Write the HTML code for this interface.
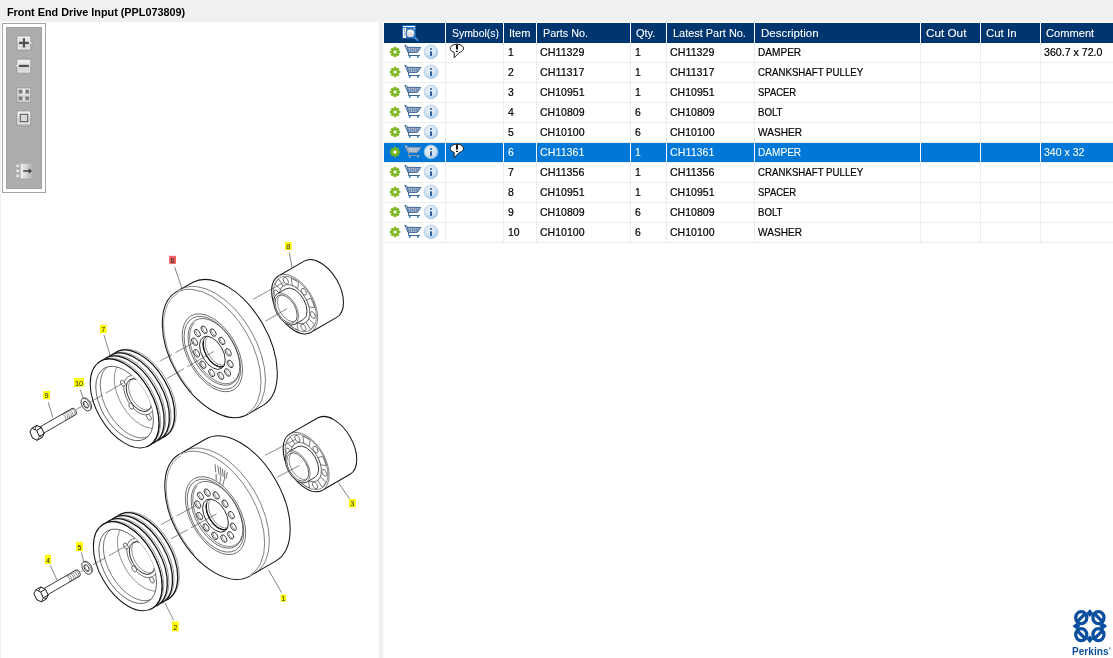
<!DOCTYPE html>
<html><head><meta charset="utf-8"><title>Front End Drive Input</title>
<style>
html,body{margin:0;padding:0}
body{width:1113px;height:658px;overflow:hidden;position:relative;background:#fff;font-family:"Liberation Sans",sans-serif;font-size:12px}
.t{position:absolute;white-space:nowrap;transform-origin:0 0;display:block;-webkit-text-stroke:0.22px currentColor}
.a{position:absolute}
</style></head><body>

<section id="titlebar">
<div class="a" style="left:0;top:0;width:1113px;height:22px;background:#f0f0f0"></div>
<span class="t" style="left:7.10px;top:6.18px;font-size:11.6px;line-height:11.6px;color:#000;transform:scaleX(0.9345);font-weight:bold;-webkit-text-stroke:0;">Front End Drive Input (PPL073809)</span>
</section>
<div class="a" style="left:0;top:22px;width:1px;height:636px;background:#f0f0f0"></div>
<div class="a" style="left:379px;top:22px;width:4px;height:636px;background:#f0f0f0"></div>
<section id="illustration">
<div class="a" style="left:2px;top:23px;width:42px;height:168px;border:1px solid #a5a5a5;background:#fff"></div>
<div class="a" style="left:6px;top:27px;width:36px;height:162px;background:#adadad;box-shadow:inset 0 0 0 1px #a3a3a3"></div>
<svg class="a" style="left:6px;top:27px" width="36" height="161" viewBox="6 27 36 161">
<defs><linearGradient id="bg1" x1="0" y1="0" x2="0" y2="1"><stop offset="0" stop-color="#f0f0f0"/><stop offset="0.48" stop-color="#e0e0e0"/><stop offset="0.52" stop-color="#d2d2d2"/><stop offset="1" stop-color="#e4e4e4"/></linearGradient><linearGradient id="bg2" x1="0" y1="0" x2="1" y2="0"><stop offset="0" stop-color="#f2f2f2"/><stop offset="1" stop-color="#b1b1b1"/></linearGradient></defs>
<path d="M16.9,36 H30.8 V41.4 L33.4,42.9 L30.8,44.4 V50 H16.9 Z" fill="url(#bg1)" stroke="#8f8f8f" stroke-width="0.7"/>
<path d="M19,42.8 H28.8 M23.95,38.2 V47.6" stroke="#505050" stroke-width="2.2"/>
<path d="M16.9,59.2 H30.8 V73.2 H16.9 V67.3 L14.3,65.8 L16.9,64.3 Z" fill="url(#bg1)" stroke="#8f8f8f" stroke-width="0.7"/>
<path d="M19,65.9 H28.8" stroke="#505050" stroke-width="2.2"/>
<rect x="16.9" y="88" width="13.9" height="14" fill="url(#bg1)" stroke="#8f8f8f" stroke-width="0.7"/>
<rect x="18.8" y="89.9" width="3.4" height="3.4" fill="#787878" stroke="#a2a2a2" stroke-width="0.6"/>
<rect x="25.6" y="89.9" width="3.4" height="3.4" fill="#787878" stroke="#a2a2a2" stroke-width="0.6"/>
<rect x="18.8" y="96.7" width="3.4" height="3.4" fill="#787878" stroke="#a2a2a2" stroke-width="0.6"/>
<rect x="25.6" y="96.7" width="3.4" height="3.4" fill="#787878" stroke="#a2a2a2" stroke-width="0.6"/>
<rect x="16.9" y="111" width="13.9" height="14" fill="url(#bg1)" stroke="#8f8f8f" stroke-width="0.7"/>
<rect x="20.3" y="114.3" width="7.4" height="7.4" fill="#d8d8d8" stroke="#555" stroke-width="1"/>
<rect x="20.6" y="163.8" width="12" height="14.6" fill="url(#bg2)"/>
<rect x="15.9" y="164" width="3.8" height="3.8" fill="#e4e4e4" stroke="#9f9f9f" stroke-width="0.7"/>
<rect x="15.9" y="169" width="3.8" height="3.8" fill="#e4e4e4" stroke="#9f9f9f" stroke-width="0.7"/>
<rect x="15.9" y="174" width="3.8" height="3.8" fill="#e4e4e4" stroke="#9f9f9f" stroke-width="0.7"/>
<path d="M23.2,171 H30" stroke="#444" stroke-width="1.5"/><path d="M28.6,168.2 L32.2,171 L28.6,173.8 Z" fill="#444"/>
</svg>
<svg class="a" style="left:0;top:22px" width="379" height="636" viewBox="0 22 379 636">
<path d="M37.7,428.3L72.1,408.4A3.6,2.1 60 0 1 75.7,414.7L41.3,434.6Z" fill="#fff" stroke="#141414" stroke-width="0.85" stroke-linejoin="round"/>
<path d="M70.8,409.2A3.6,2.1 60 0 1 74.4,415.5" fill="none" stroke="#363636" stroke-width="0.55"/>
<path d="M68.9,410.3A3.6,2.1 60 0 1 72.5,416.5" fill="none" stroke="#363636" stroke-width="0.55"/>
<path d="M67.1,411.3A3.6,2.1 60 0 1 70.7,417.6" fill="none" stroke="#363636" stroke-width="0.55"/>
<path d="M65.3,412.4A3.6,2.1 60 0 1 68.9,418.6" fill="none" stroke="#363636" stroke-width="0.55"/>
<path d="M63.5,413.4A3.6,2.1 60 0 1 67.1,419.7" fill="none" stroke="#363636" stroke-width="0.55"/>
<path d="M61.7,414.5A3.6,2.1 60 0 1 65.3,420.7" fill="none" stroke="#363636" stroke-width="0.55"/>
<path d="M36.8,425.5L41.4,427.7L44.1,433.7L42.1,437.4L37.5,435.2L34.8,429.2Z" fill="#fff" stroke="#141414" stroke-width="0.8" stroke-linejoin="round"/>
<path d="M36.8,425.5L41.4,427.7L36.6,430.5L31.9,428.3Z" fill="#fff" stroke="#141414" stroke-width="0.8" stroke-linejoin="round"/>
<path d="M41.4,427.7L44.1,433.7L39.3,436.5L36.6,430.5Z" fill="#fff" stroke="#141414" stroke-width="0.8" stroke-linejoin="round"/>
<path d="M44.1,433.7L42.1,437.4L37.3,440.2L39.3,436.5Z" fill="#fff" stroke="#141414" stroke-width="0.8" stroke-linejoin="round"/>
<path d="M42.1,437.4L37.5,435.2L32.6,438.0L37.3,440.2Z" fill="#fff" stroke="#141414" stroke-width="0.8" stroke-linejoin="round"/>
<path d="M37.5,435.2L34.8,429.2L30.0,432.0L32.6,438.0Z" fill="#fff" stroke="#141414" stroke-width="0.8" stroke-linejoin="round"/>
<path d="M34.8,429.2L36.8,425.5L31.9,428.3L30.0,432.0Z" fill="#fff" stroke="#141414" stroke-width="0.8" stroke-linejoin="round"/>
<path d="M31.9,428.3L36.6,430.5L39.3,436.5L37.3,440.2L32.6,438.0L30.0,432.0Z" fill="#fff" stroke="#141414" stroke-width="0.8" stroke-linejoin="round"/>
<path d="M82.4,398.8L83.4,398.2A6.8,3.9 60 0 1 90.2,410.0L89.2,410.6Z" fill="#fff" stroke="#141414" stroke-width="0.8" stroke-linejoin="round"/>
<ellipse cx="85.8" cy="404.7" rx="6.8" ry="3.9" transform="rotate(60 85.8 404.7)" fill="#fff" stroke="none" stroke-width="0"/>
<path d="M89.2,410.6A6.8,3.9 60 0 1 82.4,398.8" fill="none" stroke="#141414" stroke-width="0.8"/>
<path d="M82.4,398.8A6.8,3.9 60 0 1 89.2,410.6" fill="none" stroke="#363636" stroke-width="0.64"/>
<ellipse cx="85.8" cy="404.7" rx="3.7" ry="2.1" transform="rotate(60 85.8 404.7)" fill="#fff" stroke="#141414" stroke-width="0.8"/>
<path d="M88.1,407.4A3.5,2.0 60 0 1 84.6,401.4" fill="none" stroke="#363636" stroke-width="0.5"/>
<path d="M118.9,353.7L118.9,353.7A46.0,26.5 60 0 1 164.9,433.3L164.9,433.3Z" fill="#fff" stroke="none" stroke-width="0" stroke-linejoin="round"/>
<path d="M115.9,352.4L117.6,351.4A48.6,28.0 60 0 1 166.2,435.6L164.5,436.6Z" fill="#fff" stroke="#444" stroke-width="0.55" stroke-linejoin="round"/>
<ellipse cx="140.2" cy="394.5" rx="48.6" ry="28.0" transform="rotate(60 140.2 394.5)" fill="#fff" stroke="none" stroke-width="0"/>
<path d="M113.5,354.1A48.6,28.0 60 1 1 161.8,437.8" fill="none" stroke="#141414" stroke-width="1.3"/>
<path d="M113.7,356.7L117.2,354.7A46.0,26.5 60 0 1 163.2,434.3L159.7,436.3Z" fill="#fff" stroke="none" stroke-width="0" stroke-linejoin="round"/>
<path d="M110.7,355.4L112.4,354.4A48.6,28.0 60 0 1 161.0,438.6L159.3,439.6Z" fill="#fff" stroke="#444" stroke-width="0.55" stroke-linejoin="round"/>
<ellipse cx="135.0" cy="397.5" rx="48.6" ry="28.0" transform="rotate(60 135.0 397.5)" fill="#fff" stroke="none" stroke-width="0"/>
<path d="M108.3,357.1A48.6,28.0 60 1 1 156.6,440.8" fill="none" stroke="#141414" stroke-width="1.3"/>
<path d="M108.5,359.7L112.0,357.7A46.0,26.5 60 0 1 158.0,437.3L154.5,439.3Z" fill="#fff" stroke="none" stroke-width="0" stroke-linejoin="round"/>
<path d="M105.5,358.4L107.2,357.4A48.6,28.0 60 0 1 155.8,441.6L154.1,442.6Z" fill="#fff" stroke="#444" stroke-width="0.55" stroke-linejoin="round"/>
<ellipse cx="129.8" cy="400.5" rx="48.6" ry="28.0" transform="rotate(60 129.8 400.5)" fill="#fff" stroke="none" stroke-width="0"/>
<path d="M103.1,360.1A48.6,28.0 60 1 1 151.4,443.8" fill="none" stroke="#141414" stroke-width="1.3"/>
<path d="M103.3,362.7L106.8,360.7A46.0,26.5 60 0 1 152.8,440.3L149.3,442.3Z" fill="#fff" stroke="none" stroke-width="0" stroke-linejoin="round"/>
<path d="M100.3,361.4L102.0,360.4A48.6,28.0 60 0 1 150.6,444.6L148.9,445.6Z" fill="#fff" stroke="#444" stroke-width="0.55" stroke-linejoin="round"/>
<ellipse cx="124.6" cy="403.5" rx="48.6" ry="28.0" transform="rotate(60 124.6 403.5)" fill="#fff" stroke="none" stroke-width="0"/>
<path d="M97.9,363.1A48.6,28.0 60 1 1 146.2,446.8" fill="none" stroke="#141414" stroke-width="1.3"/>
<ellipse cx="124.6" cy="403.5" rx="48.6" ry="28.0" transform="rotate(60 124.6 403.5)" fill="#fff" stroke="#141414" stroke-width="1.05"/>
<ellipse cx="124.6" cy="403.5" rx="40.8" ry="23.5" transform="rotate(60 124.6 403.5)" fill="#fff" stroke="#363636" stroke-width="0.7"/>
<clipPath id="cp1"><ellipse cx="124.6" cy="403.5" rx="40.8" ry="23.5" transform="rotate(60 124.6 403.5)"/></clipPath>
<g clip-path="url(#cp1)">
<ellipse cx="128.9" cy="401.0" rx="40.5" ry="23.4" transform="rotate(60 128.9 401.0)" fill="none" stroke="#363636" stroke-width="0.6"/>
<ellipse cx="140.6" cy="394.2" rx="37.3" ry="21.5" transform="rotate(60 140.6 394.2)" fill="none" stroke="#363636" stroke-width="0.5"/>
<ellipse cx="138.9" cy="395.2" rx="21.5" ry="12.4" transform="rotate(60 138.9 395.2)" fill="#fff" stroke="#363636" stroke-width="0.64"/>
<ellipse cx="138.9" cy="395.2" rx="18.0" ry="10.4" transform="rotate(60 138.9 395.2)" fill="#fff" stroke="#141414" stroke-width="0.8"/>
<ellipse cx="141.0" cy="394.0" rx="17.6" ry="10.2" transform="rotate(60 141.0 394.0)" fill="none" stroke="#363636" stroke-width="0.5"/>
<ellipse cx="122.8" cy="383.2" rx="3.3" ry="1.9" transform="rotate(60 122.8 383.2)" fill="#fff" stroke="#363636" stroke-width="0.7"/>
<ellipse cx="132.3" cy="371.3" rx="3.3" ry="1.9" transform="rotate(60 132.3 371.3)" fill="#fff" stroke="#363636" stroke-width="0.7"/>
<ellipse cx="150.1" cy="382.3" rx="3.3" ry="1.9" transform="rotate(60 150.1 382.3)" fill="#fff" stroke="#363636" stroke-width="0.7"/>
<ellipse cx="158.4" cy="405.3" rx="3.3" ry="1.9" transform="rotate(60 158.4 405.3)" fill="#fff" stroke="#363636" stroke-width="0.7"/>
<ellipse cx="148.9" cy="417.2" rx="3.3" ry="1.9" transform="rotate(60 148.9 417.2)" fill="#fff" stroke="#363636" stroke-width="0.7"/>
<ellipse cx="131.1" cy="406.2" rx="3.3" ry="1.9" transform="rotate(60 131.1 406.2)" fill="#fff" stroke="#363636" stroke-width="0.7"/>
</g>
<path d="M176.9,291.4L193.0,282.2A70.9,40.9 60 0 1 263.9,404.9L247.9,414.2Z" fill="#fff" stroke="#141414" stroke-width="1.05" stroke-linejoin="round"/>
<ellipse cx="212.4" cy="352.8" rx="70.9" ry="40.9" transform="rotate(60 212.4 352.8)" fill="#fff" stroke="none" stroke-width="0"/>
<path d="M247.9,414.2A70.9,40.9 60 0 1 176.9,291.4" fill="none" stroke="#141414" stroke-width="1.05"/>
<path d="M177.0,292.3A70.1,40.4 60 0 1 247.1,413.7" fill="none" stroke="#363636" stroke-width="0.64"/>
<path d="M180.1,289.6A70.9,40.9 60 0 1 251.0,412.4" fill="none" stroke="#363636" stroke-width="0.64"/>
<path d="M191.8,391.9A69.0,39.8 60 0 1 177.9,293.0" fill="none" stroke="#363636" stroke-width="0.5"/>
<ellipse cx="212.4" cy="352.8" rx="42.7" ry="24.6" transform="rotate(60 212.4 352.8)" fill="none" stroke="#363636" stroke-width="0.64"/>
<ellipse cx="212.4" cy="352.8" rx="40.0" ry="23.1" transform="rotate(60 212.4 352.8)" fill="none" stroke="#363636" stroke-width="0.64"/>
<ellipse cx="213.9" cy="351.9" rx="36.6" ry="21.1" transform="rotate(60 213.9 351.9)" fill="none" stroke="#363636" stroke-width="0.64"/>
<path d="M239.0,373.1A35.6,20.5 60 1 1 194.0,322.9" fill="none" stroke="#363636" stroke-width="0.64"/>
<ellipse cx="194.6" cy="341.7" rx="4.1" ry="2.4" transform="rotate(60 194.6 341.7)" fill="#fff" stroke="#222" stroke-width="0.8"/>
<path d="M196.9,344.6A3.9,2.3 60 0 1 193.2,338.3" fill="none" stroke="#363636" stroke-width="0.5"/>
<ellipse cx="197.3" cy="333.1" rx="4.1" ry="2.4" transform="rotate(60 197.3 333.1)" fill="#fff" stroke="#222" stroke-width="0.8"/>
<path d="M199.6,336.0A3.9,2.3 60 0 1 196.0,329.7" fill="none" stroke="#363636" stroke-width="0.5"/>
<ellipse cx="204.1" cy="329.8" rx="4.1" ry="2.4" transform="rotate(60 204.1 329.8)" fill="#fff" stroke="#222" stroke-width="0.8"/>
<path d="M206.4,332.7A3.9,2.3 60 0 1 202.7,326.4" fill="none" stroke="#363636" stroke-width="0.5"/>
<ellipse cx="213.1" cy="332.6" rx="4.1" ry="2.4" transform="rotate(60 213.1 332.6)" fill="#fff" stroke="#222" stroke-width="0.8"/>
<path d="M215.4,335.5A3.9,2.3 60 0 1 211.7,329.2" fill="none" stroke="#363636" stroke-width="0.5"/>
<ellipse cx="221.9" cy="340.9" rx="4.1" ry="2.4" transform="rotate(60 221.9 340.9)" fill="#fff" stroke="#222" stroke-width="0.8"/>
<path d="M224.2,343.8A3.9,2.3 60 0 1 220.5,337.4" fill="none" stroke="#363636" stroke-width="0.5"/>
<ellipse cx="228.2" cy="352.3" rx="4.1" ry="2.4" transform="rotate(60 228.2 352.3)" fill="#fff" stroke="#222" stroke-width="0.8"/>
<path d="M230.4,355.2A3.9,2.3 60 0 1 226.8,348.9" fill="none" stroke="#363636" stroke-width="0.5"/>
<ellipse cx="230.2" cy="363.9" rx="4.1" ry="2.4" transform="rotate(60 230.2 363.9)" fill="#fff" stroke="#222" stroke-width="0.8"/>
<path d="M232.5,366.8A3.9,2.3 60 0 1 228.8,360.4" fill="none" stroke="#363636" stroke-width="0.5"/>
<ellipse cx="227.5" cy="372.5" rx="4.1" ry="2.4" transform="rotate(60 227.5 372.5)" fill="#fff" stroke="#222" stroke-width="0.8"/>
<path d="M229.8,375.4A3.9,2.3 60 0 1 226.1,369.0" fill="none" stroke="#363636" stroke-width="0.5"/>
<ellipse cx="220.7" cy="375.8" rx="4.1" ry="2.4" transform="rotate(60 220.7 375.8)" fill="#fff" stroke="#222" stroke-width="0.8"/>
<path d="M223.0,378.7A3.9,2.3 60 0 1 219.3,372.4" fill="none" stroke="#363636" stroke-width="0.5"/>
<ellipse cx="211.7" cy="373.0" rx="4.1" ry="2.4" transform="rotate(60 211.7 373.0)" fill="#fff" stroke="#222" stroke-width="0.8"/>
<path d="M214.0,375.9A3.9,2.3 60 0 1 210.3,369.5" fill="none" stroke="#363636" stroke-width="0.5"/>
<ellipse cx="202.9" cy="364.7" rx="4.1" ry="2.4" transform="rotate(60 202.9 364.7)" fill="#fff" stroke="#222" stroke-width="0.8"/>
<path d="M205.2,367.6A3.9,2.3 60 0 1 201.5,361.3" fill="none" stroke="#363636" stroke-width="0.5"/>
<ellipse cx="196.6" cy="353.3" rx="4.1" ry="2.4" transform="rotate(60 196.6 353.3)" fill="#fff" stroke="#222" stroke-width="0.8"/>
<path d="M198.9,356.2A3.9,2.3 60 0 1 195.3,349.9" fill="none" stroke="#363636" stroke-width="0.5"/>
<ellipse cx="212.4" cy="352.8" rx="18.2" ry="10.5" transform="rotate(60 212.4 352.8)" fill="#fff" stroke="#141414" stroke-width="0.8"/>
<clipPath id="cp2"><ellipse cx="212.4" cy="352.8" rx="18.2" ry="10.5" transform="rotate(60 212.4 352.8)"/></clipPath>
<g clip-path="url(#cp2)">
<path d="M225.4,365.1A17.4,10.0 60 0 1 203.5,340.6" fill="none" stroke="#141414" stroke-width="1.25"/>
<ellipse cx="215.3" cy="351.1" rx="17.4" ry="10.0" transform="rotate(60 215.3 351.1)" fill="none" stroke="#141414" stroke-width="0.7"/>
<ellipse cx="217.1" cy="350.1" rx="16.6" ry="9.6" transform="rotate(60 217.1 350.1)" fill="none" stroke="#363636" stroke-width="0.5"/>
</g>
<path d="M278.4,276.0L304.2,261.1A32.5,18.8 60 0 1 336.7,317.4L310.9,332.3Z" fill="#fff" stroke="#141414" stroke-width="1.05" stroke-linejoin="round"/>
<ellipse cx="294.6" cy="304.2" rx="32.5" ry="18.8" transform="rotate(60 294.6 304.2)" fill="#fff" stroke="none" stroke-width="0"/>
<path d="M310.9,332.3A32.5,18.8 60 0 1 278.4,276.0" fill="none" stroke="#141414" stroke-width="1.05"/>
<path d="M278.4,276.0A32.5,18.8 60 0 1 310.9,332.3" fill="none" stroke="#363636" stroke-width="0.64"/>
<ellipse cx="294.9" cy="304.0" rx="30.3" ry="17.5" transform="rotate(60 294.9 304.0)" fill="none" stroke="#363636" stroke-width="0.5"/>
<ellipse cx="285.8" cy="280.8" rx="3.7" ry="2.1" transform="rotate(60 285.8 280.8)" fill="#fff" stroke="#363636" stroke-width="0.65"/>
<path d="M291.3,278.3A29.8,17.2 60 0 1 298.6,282.6L297.5,288.7A21.4,12.4 60 0 0 292.2,285.5Z" fill="#fff" stroke="#363636" stroke-width="0.65" stroke-linejoin="round"/>
<ellipse cx="303.9" cy="291.7" rx="3.7" ry="2.1" transform="rotate(60 303.9 291.7)" fill="#fff" stroke="#363636" stroke-width="0.65"/>
<path d="M311.0,298.3A29.8,17.2 60 0 1 314.5,307.8L308.9,306.8A21.4,12.4 60 0 0 306.4,300.0Z" fill="#fff" stroke="#363636" stroke-width="0.65" stroke-linejoin="round"/>
<ellipse cx="312.7" cy="315.0" rx="3.7" ry="2.1" transform="rotate(60 312.7 315.0)" fill="#fff" stroke="#363636" stroke-width="0.65"/>
<path d="M314.3,324.3A29.8,17.2 60 0 1 310.5,329.3L306.0,322.3A21.4,12.4 60 0 0 308.7,318.6Z" fill="#fff" stroke="#363636" stroke-width="0.65" stroke-linejoin="round"/>
<ellipse cx="303.4" cy="327.5" rx="3.7" ry="2.1" transform="rotate(60 303.4 327.5)" fill="#fff" stroke="#363636" stroke-width="0.65"/>
<path d="M297.9,330.1A29.8,17.2 60 0 1 290.6,325.7L291.7,319.7A21.4,12.4 60 0 0 297.0,322.8Z" fill="#fff" stroke="#363636" stroke-width="0.65" stroke-linejoin="round"/>
<ellipse cx="285.3" cy="316.7" rx="3.7" ry="2.1" transform="rotate(60 285.3 316.7)" fill="#fff" stroke="#363636" stroke-width="0.65"/>
<path d="M278.2,310.0A29.8,17.2 60 0 1 274.7,300.6L280.3,301.6A21.4,12.4 60 0 0 282.8,308.4Z" fill="#fff" stroke="#363636" stroke-width="0.65" stroke-linejoin="round"/>
<ellipse cx="276.5" cy="293.4" rx="3.7" ry="2.1" transform="rotate(60 276.5 293.4)" fill="#fff" stroke="#363636" stroke-width="0.65"/>
<path d="M274.9,284.1A29.8,17.2 60 0 1 278.7,279.1L283.2,286.1A21.4,12.4 60 0 0 280.5,289.8Z" fill="#fff" stroke="#363636" stroke-width="0.65" stroke-linejoin="round"/>
<ellipse cx="294.6" cy="304.2" rx="21.5" ry="12.4" transform="rotate(60 294.6 304.2)" fill="#fff" stroke="#363636" stroke-width="0.64"/>
<path d="M277.3,293.8L285.8,288.9A17.6,10.2 60 0 1 303.4,319.4L294.9,324.3Z" fill="#fff" stroke="#141414" stroke-width="0.85" stroke-linejoin="round"/>
<ellipse cx="286.1" cy="309.1" rx="17.6" ry="10.2" transform="rotate(60 286.1 309.1)" fill="#fff" stroke="none" stroke-width="0"/>
<path d="M294.9,324.3A17.6,10.2 60 0 1 277.3,293.8" fill="none" stroke="#141414" stroke-width="0.85"/>
<path d="M277.3,293.8A17.6,10.2 60 0 1 294.9,324.3" fill="none" stroke="#363636" stroke-width="0.64"/>
<ellipse cx="286.1" cy="309.1" rx="15.6" ry="9.0" transform="rotate(60 286.1 309.1)" fill="#fff" stroke="#363636" stroke-width="0.7"/>
<clipPath id="cp3"><ellipse cx="286.1" cy="309.1" rx="15.6" ry="9.0" transform="rotate(60 286.1 309.1)"/></clipPath>
<g clip-path="url(#cp3)">
<ellipse cx="288.0" cy="308.0" rx="15.0" ry="8.7" transform="rotate(60 288.0 308.0)" fill="none" stroke="#363636" stroke-width="0.5"/>
</g>
<path d="M41.7,589.9L76.1,570.0A3.6,2.1 60 0 1 79.7,576.2L45.3,596.1Z" fill="#fff" stroke="#141414" stroke-width="0.85" stroke-linejoin="round"/>
<path d="M74.8,570.8A3.6,2.1 60 0 1 78.4,577.0" fill="none" stroke="#363636" stroke-width="0.55"/>
<path d="M72.9,571.8A3.6,2.1 60 0 1 76.5,578.1" fill="none" stroke="#363636" stroke-width="0.55"/>
<path d="M71.1,572.9A3.6,2.1 60 0 1 74.7,579.1" fill="none" stroke="#363636" stroke-width="0.55"/>
<path d="M69.3,573.9A3.6,2.1 60 0 1 72.9,580.2" fill="none" stroke="#363636" stroke-width="0.55"/>
<path d="M67.5,575.0A3.6,2.1 60 0 1 71.1,581.2" fill="none" stroke="#363636" stroke-width="0.55"/>
<path d="M65.7,576.0A3.6,2.1 60 0 1 69.3,582.3" fill="none" stroke="#363636" stroke-width="0.55"/>
<path d="M40.8,587.0L45.4,589.3L48.1,595.2L46.2,599.0L41.5,596.7L38.8,590.8Z" fill="#fff" stroke="#141414" stroke-width="0.8" stroke-linejoin="round"/>
<path d="M40.8,587.0L45.4,589.3L40.6,592.1L35.9,589.8Z" fill="#fff" stroke="#141414" stroke-width="0.8" stroke-linejoin="round"/>
<path d="M45.4,589.3L48.1,595.2L43.3,598.0L40.6,592.1Z" fill="#fff" stroke="#141414" stroke-width="0.8" stroke-linejoin="round"/>
<path d="M48.1,595.2L46.2,599.0L41.3,601.8L43.3,598.0Z" fill="#fff" stroke="#141414" stroke-width="0.8" stroke-linejoin="round"/>
<path d="M46.2,599.0L41.5,596.7L36.7,599.5L41.3,601.8Z" fill="#fff" stroke="#141414" stroke-width="0.8" stroke-linejoin="round"/>
<path d="M41.5,596.7L38.8,590.8L34.0,593.6L36.7,599.5Z" fill="#fff" stroke="#141414" stroke-width="0.8" stroke-linejoin="round"/>
<path d="M38.8,590.8L40.8,587.0L35.9,589.8L34.0,593.6Z" fill="#fff" stroke="#141414" stroke-width="0.8" stroke-linejoin="round"/>
<path d="M35.9,589.8L40.6,592.1L43.3,598.0L41.3,601.8L36.7,599.5L34.0,593.6Z" fill="#fff" stroke="#141414" stroke-width="0.8" stroke-linejoin="round"/>
<path d="M83.2,562.2L84.2,561.6A6.8,3.9 60 0 1 91.0,573.4L90.0,574.0Z" fill="#fff" stroke="#141414" stroke-width="0.8" stroke-linejoin="round"/>
<ellipse cx="86.6" cy="568.1" rx="6.8" ry="3.9" transform="rotate(60 86.6 568.1)" fill="#fff" stroke="none" stroke-width="0"/>
<path d="M90.0,574.0A6.8,3.9 60 0 1 83.2,562.2" fill="none" stroke="#141414" stroke-width="0.8"/>
<path d="M83.2,562.2A6.8,3.9 60 0 1 90.0,574.0" fill="none" stroke="#363636" stroke-width="0.64"/>
<ellipse cx="86.6" cy="568.1" rx="3.7" ry="2.1" transform="rotate(60 86.6 568.1)" fill="#fff" stroke="#141414" stroke-width="0.8"/>
<path d="M88.9,570.8A3.5,2.0 60 0 1 85.4,564.8" fill="none" stroke="#363636" stroke-width="0.5"/>
<path d="M122.0,516.5L122.0,516.5A46.0,26.5 60 0 1 168.0,596.1L168.0,596.1Z" fill="#fff" stroke="none" stroke-width="0" stroke-linejoin="round"/>
<path d="M119.0,515.2L120.7,514.2A48.6,28.0 60 0 1 169.3,598.4L167.6,599.4Z" fill="#fff" stroke="#444" stroke-width="0.55" stroke-linejoin="round"/>
<ellipse cx="143.3" cy="557.3" rx="48.6" ry="28.0" transform="rotate(60 143.3 557.3)" fill="#fff" stroke="none" stroke-width="0"/>
<path d="M116.6,516.9A48.6,28.0 60 1 1 164.9,600.6" fill="none" stroke="#141414" stroke-width="1.3"/>
<path d="M116.8,519.5L120.3,517.5A46.0,26.5 60 0 1 166.3,597.1L162.8,599.1Z" fill="#fff" stroke="none" stroke-width="0" stroke-linejoin="round"/>
<path d="M113.8,518.2L115.5,517.2A48.6,28.0 60 0 1 164.1,601.4L162.4,602.4Z" fill="#fff" stroke="#444" stroke-width="0.55" stroke-linejoin="round"/>
<ellipse cx="138.1" cy="560.3" rx="48.6" ry="28.0" transform="rotate(60 138.1 560.3)" fill="#fff" stroke="none" stroke-width="0"/>
<path d="M111.4,519.9A48.6,28.0 60 1 1 159.7,603.6" fill="none" stroke="#141414" stroke-width="1.3"/>
<path d="M111.6,522.5L115.1,520.5A46.0,26.5 60 0 1 161.1,600.1L157.6,602.1Z" fill="#fff" stroke="none" stroke-width="0" stroke-linejoin="round"/>
<path d="M108.6,521.2L110.3,520.2A48.6,28.0 60 0 1 158.9,604.4L157.2,605.4Z" fill="#fff" stroke="#444" stroke-width="0.55" stroke-linejoin="round"/>
<ellipse cx="132.9" cy="563.3" rx="48.6" ry="28.0" transform="rotate(60 132.9 563.3)" fill="#fff" stroke="none" stroke-width="0"/>
<path d="M106.2,522.9A48.6,28.0 60 1 1 154.5,606.6" fill="none" stroke="#141414" stroke-width="1.3"/>
<path d="M106.4,525.5L109.9,523.5A46.0,26.5 60 0 1 155.9,603.1L152.4,605.1Z" fill="#fff" stroke="none" stroke-width="0" stroke-linejoin="round"/>
<path d="M103.4,524.2L105.1,523.2A48.6,28.0 60 0 1 153.7,607.4L152.0,608.4Z" fill="#fff" stroke="#444" stroke-width="0.55" stroke-linejoin="round"/>
<ellipse cx="127.7" cy="566.3" rx="48.6" ry="28.0" transform="rotate(60 127.7 566.3)" fill="#fff" stroke="none" stroke-width="0"/>
<path d="M101.0,525.9A48.6,28.0 60 1 1 149.3,609.6" fill="none" stroke="#141414" stroke-width="1.3"/>
<ellipse cx="127.7" cy="566.3" rx="48.6" ry="28.0" transform="rotate(60 127.7 566.3)" fill="#fff" stroke="#141414" stroke-width="1.05"/>
<ellipse cx="127.7" cy="566.3" rx="40.8" ry="23.5" transform="rotate(60 127.7 566.3)" fill="#fff" stroke="#363636" stroke-width="0.7"/>
<clipPath id="cp4"><ellipse cx="127.7" cy="566.3" rx="40.8" ry="23.5" transform="rotate(60 127.7 566.3)"/></clipPath>
<g clip-path="url(#cp4)">
<ellipse cx="132.0" cy="563.8" rx="40.5" ry="23.4" transform="rotate(60 132.0 563.8)" fill="none" stroke="#363636" stroke-width="0.6"/>
<ellipse cx="143.7" cy="557.1" rx="37.3" ry="21.5" transform="rotate(60 143.7 557.1)" fill="none" stroke="#363636" stroke-width="0.5"/>
<ellipse cx="142.0" cy="558.1" rx="21.5" ry="12.4" transform="rotate(60 142.0 558.1)" fill="#fff" stroke="#363636" stroke-width="0.64"/>
<ellipse cx="142.0" cy="558.1" rx="18.0" ry="10.4" transform="rotate(60 142.0 558.1)" fill="#fff" stroke="#141414" stroke-width="0.8"/>
<ellipse cx="144.1" cy="556.8" rx="17.6" ry="10.2" transform="rotate(60 144.1 556.8)" fill="none" stroke="#363636" stroke-width="0.5"/>
<ellipse cx="125.9" cy="546.0" rx="3.3" ry="1.9" transform="rotate(60 125.9 546.0)" fill="#fff" stroke="#363636" stroke-width="0.7"/>
<ellipse cx="135.4" cy="534.1" rx="3.3" ry="1.9" transform="rotate(60 135.4 534.1)" fill="#fff" stroke="#363636" stroke-width="0.7"/>
<ellipse cx="153.2" cy="545.1" rx="3.3" ry="1.9" transform="rotate(60 153.2 545.1)" fill="#fff" stroke="#363636" stroke-width="0.7"/>
<ellipse cx="161.5" cy="568.1" rx="3.3" ry="1.9" transform="rotate(60 161.5 568.1)" fill="#fff" stroke="#363636" stroke-width="0.7"/>
<ellipse cx="152.0" cy="580.0" rx="3.3" ry="1.9" transform="rotate(60 152.0 580.0)" fill="#fff" stroke="#363636" stroke-width="0.7"/>
<ellipse cx="134.2" cy="569.0" rx="3.3" ry="1.9" transform="rotate(60 134.2 569.0)" fill="#fff" stroke="#363636" stroke-width="0.7"/>
</g>
<path d="M179.3,454.3L205.3,439.3A70.3,40.6 60 0 1 275.6,561.1L249.7,576.1Z" fill="#fff" stroke="#141414" stroke-width="1.05" stroke-linejoin="round"/>
<ellipse cx="214.5" cy="515.2" rx="70.3" ry="40.6" transform="rotate(60 214.5 515.2)" fill="#fff" stroke="none" stroke-width="0"/>
<path d="M249.7,576.1A70.3,40.6 60 0 1 179.3,454.3" fill="none" stroke="#141414" stroke-width="1.05"/>
<path d="M180.8,454.4A69.5,40.1 60 0 1 250.3,574.8" fill="none" stroke="#363636" stroke-width="0.64"/>
<path d="M184.5,451.3A70.3,40.6 60 0 1 254.8,573.1" fill="none" stroke="#363636" stroke-width="0.64"/>
<path d="M194.1,554.0A68.4,39.5 60 0 1 180.3,456.0" fill="none" stroke="#363636" stroke-width="0.5"/>
<ellipse cx="215.5" cy="515.6" rx="42.7" ry="24.6" transform="rotate(60 215.5 515.6)" fill="none" stroke="#363636" stroke-width="0.64"/>
<ellipse cx="215.5" cy="515.6" rx="40.0" ry="23.1" transform="rotate(60 215.5 515.6)" fill="none" stroke="#363636" stroke-width="0.64"/>
<ellipse cx="217.0" cy="514.8" rx="36.6" ry="21.1" transform="rotate(60 217.0 514.8)" fill="none" stroke="#363636" stroke-width="0.64"/>
<path d="M242.1,535.9A35.6,20.5 60 1 1 197.1,485.7" fill="none" stroke="#363636" stroke-width="0.64"/>
<ellipse cx="197.7" cy="504.5" rx="4.1" ry="2.4" transform="rotate(60 197.7 504.5)" fill="#fff" stroke="#222" stroke-width="0.8"/>
<path d="M200.0,507.4A3.9,2.3 60 0 1 196.3,501.1" fill="none" stroke="#363636" stroke-width="0.5"/>
<ellipse cx="200.4" cy="495.9" rx="4.1" ry="2.4" transform="rotate(60 200.4 495.9)" fill="#fff" stroke="#222" stroke-width="0.8"/>
<path d="M202.7,498.8A3.9,2.3 60 0 1 199.1,492.5" fill="none" stroke="#363636" stroke-width="0.5"/>
<ellipse cx="207.2" cy="492.6" rx="4.1" ry="2.4" transform="rotate(60 207.2 492.6)" fill="#fff" stroke="#222" stroke-width="0.8"/>
<path d="M209.5,495.5A3.9,2.3 60 0 1 205.8,489.2" fill="none" stroke="#363636" stroke-width="0.5"/>
<ellipse cx="216.2" cy="495.4" rx="4.1" ry="2.4" transform="rotate(60 216.2 495.4)" fill="#fff" stroke="#222" stroke-width="0.8"/>
<path d="M218.5,498.3A3.9,2.3 60 0 1 214.8,492.0" fill="none" stroke="#363636" stroke-width="0.5"/>
<ellipse cx="225.0" cy="503.7" rx="4.1" ry="2.4" transform="rotate(60 225.0 503.7)" fill="#fff" stroke="#222" stroke-width="0.8"/>
<path d="M227.3,506.6A3.9,2.3 60 0 1 223.6,500.2" fill="none" stroke="#363636" stroke-width="0.5"/>
<ellipse cx="231.3" cy="515.1" rx="4.1" ry="2.4" transform="rotate(60 231.3 515.1)" fill="#fff" stroke="#222" stroke-width="0.8"/>
<path d="M233.5,518.0A3.9,2.3 60 0 1 229.9,511.7" fill="none" stroke="#363636" stroke-width="0.5"/>
<ellipse cx="233.3" cy="526.7" rx="4.1" ry="2.4" transform="rotate(60 233.3 526.7)" fill="#fff" stroke="#222" stroke-width="0.8"/>
<path d="M235.6,529.6A3.9,2.3 60 0 1 231.9,523.2" fill="none" stroke="#363636" stroke-width="0.5"/>
<ellipse cx="230.6" cy="535.3" rx="4.1" ry="2.4" transform="rotate(60 230.6 535.3)" fill="#fff" stroke="#222" stroke-width="0.8"/>
<path d="M232.9,538.2A3.9,2.3 60 0 1 229.2,531.8" fill="none" stroke="#363636" stroke-width="0.5"/>
<ellipse cx="223.8" cy="538.6" rx="4.1" ry="2.4" transform="rotate(60 223.8 538.6)" fill="#fff" stroke="#222" stroke-width="0.8"/>
<path d="M226.1,541.5A3.9,2.3 60 0 1 222.4,535.2" fill="none" stroke="#363636" stroke-width="0.5"/>
<ellipse cx="214.8" cy="535.8" rx="4.1" ry="2.4" transform="rotate(60 214.8 535.8)" fill="#fff" stroke="#222" stroke-width="0.8"/>
<path d="M217.1,538.7A3.9,2.3 60 0 1 213.4,532.3" fill="none" stroke="#363636" stroke-width="0.5"/>
<ellipse cx="206.0" cy="527.5" rx="4.1" ry="2.4" transform="rotate(60 206.0 527.5)" fill="#fff" stroke="#222" stroke-width="0.8"/>
<path d="M208.3,530.4A3.9,2.3 60 0 1 204.6,524.1" fill="none" stroke="#363636" stroke-width="0.5"/>
<ellipse cx="199.7" cy="516.1" rx="4.1" ry="2.4" transform="rotate(60 199.7 516.1)" fill="#fff" stroke="#222" stroke-width="0.8"/>
<path d="M202.0,519.0A3.9,2.3 60 0 1 198.4,512.7" fill="none" stroke="#363636" stroke-width="0.5"/>
<ellipse cx="215.5" cy="515.6" rx="18.2" ry="10.5" transform="rotate(60 215.5 515.6)" fill="#fff" stroke="#141414" stroke-width="0.8"/>
<clipPath id="cp5"><ellipse cx="215.5" cy="515.6" rx="18.2" ry="10.5" transform="rotate(60 215.5 515.6)"/></clipPath>
<g clip-path="url(#cp5)">
<path d="M228.5,527.9A17.4,10.0 60 0 1 206.6,503.4" fill="none" stroke="#141414" stroke-width="1.25"/>
<ellipse cx="218.4" cy="513.9" rx="17.4" ry="10.0" transform="rotate(60 218.4 513.9)" fill="none" stroke="#141414" stroke-width="0.7"/>
<ellipse cx="220.2" cy="512.9" rx="16.6" ry="9.6" transform="rotate(60 220.2 512.9)" fill="none" stroke="#363636" stroke-width="0.5"/>
</g>
<path d="M215.0,464.1L215.8,472.4" fill="none" stroke="#444" stroke-width="0.75"/>
<path d="M217.7,465.6L219.2,474.7" fill="none" stroke="#444" stroke-width="0.75"/>
<path d="M220.2,466.7L221.0,474.6L219.9,483.8" fill="none" stroke="#444" stroke-width="0.75"/>
<path d="M222.4,468.6L223.2,476.6" fill="none" stroke="#444" stroke-width="0.75"/>
<path d="M224.9,470.3L224.5,478.6L222.6,486.1" fill="none" stroke="#444" stroke-width="0.75"/>
<path d="M227.3,472.1L226.0,478.6" fill="none" stroke="#444" stroke-width="0.75"/>
<path d="M216.1,474.1L216.5,480.6" stroke="#9a9a9a" stroke-width="1.6" fill="none"/>
<path d="M289.9,433.9L317.5,418.0A32.5,18.8 60 0 1 350.0,474.3L322.4,490.2Z" fill="#fff" stroke="#141414" stroke-width="1.05" stroke-linejoin="round"/>
<ellipse cx="306.2" cy="462.1" rx="32.5" ry="18.8" transform="rotate(60 306.2 462.1)" fill="#fff" stroke="none" stroke-width="0"/>
<path d="M322.4,490.2A32.5,18.8 60 0 1 289.9,433.9" fill="none" stroke="#141414" stroke-width="1.05"/>
<path d="M289.9,433.9A32.5,18.8 60 0 1 322.4,490.2" fill="none" stroke="#363636" stroke-width="0.64"/>
<ellipse cx="306.5" cy="461.9" rx="30.3" ry="17.5" transform="rotate(60 306.5 461.9)" fill="none" stroke="#363636" stroke-width="0.5"/>
<ellipse cx="297.4" cy="438.7" rx="3.7" ry="2.1" transform="rotate(60 297.4 438.7)" fill="#fff" stroke="#363636" stroke-width="0.65"/>
<path d="M302.9,436.2A29.8,17.2 60 0 1 310.2,440.5L309.1,446.6A21.4,12.4 60 0 0 303.8,443.4Z" fill="#fff" stroke="#363636" stroke-width="0.65" stroke-linejoin="round"/>
<ellipse cx="315.5" cy="449.6" rx="3.7" ry="2.1" transform="rotate(60 315.5 449.6)" fill="#fff" stroke="#363636" stroke-width="0.65"/>
<path d="M322.5,456.2A29.8,17.2 60 0 1 326.1,465.7L320.5,464.7A21.4,12.4 60 0 0 318.0,457.9Z" fill="#fff" stroke="#363636" stroke-width="0.65" stroke-linejoin="round"/>
<ellipse cx="324.3" cy="472.9" rx="3.7" ry="2.1" transform="rotate(60 324.3 472.9)" fill="#fff" stroke="#363636" stroke-width="0.65"/>
<path d="M325.8,482.2A29.8,17.2 60 0 1 322.1,487.2L317.6,480.2A21.4,12.4 60 0 0 320.3,476.5Z" fill="#fff" stroke="#363636" stroke-width="0.65" stroke-linejoin="round"/>
<ellipse cx="315.0" cy="485.4" rx="3.7" ry="2.1" transform="rotate(60 315.0 485.4)" fill="#fff" stroke="#363636" stroke-width="0.65"/>
<path d="M309.5,488.0A29.8,17.2 60 0 1 302.2,483.6L303.3,477.6A21.4,12.4 60 0 0 308.6,480.7Z" fill="#fff" stroke="#363636" stroke-width="0.65" stroke-linejoin="round"/>
<ellipse cx="296.9" cy="474.6" rx="3.7" ry="2.1" transform="rotate(60 296.9 474.6)" fill="#fff" stroke="#363636" stroke-width="0.65"/>
<path d="M289.8,467.9A29.8,17.2 60 0 1 286.3,458.5L291.9,459.5A21.4,12.4 60 0 0 294.4,466.3Z" fill="#fff" stroke="#363636" stroke-width="0.65" stroke-linejoin="round"/>
<ellipse cx="288.1" cy="451.3" rx="3.7" ry="2.1" transform="rotate(60 288.1 451.3)" fill="#fff" stroke="#363636" stroke-width="0.65"/>
<path d="M286.5,442.0A29.8,17.2 60 0 1 290.3,437.0L294.8,444.0A21.4,12.4 60 0 0 292.1,447.7Z" fill="#fff" stroke="#363636" stroke-width="0.65" stroke-linejoin="round"/>
<ellipse cx="306.2" cy="462.1" rx="21.5" ry="12.4" transform="rotate(60 306.2 462.1)" fill="#fff" stroke="#363636" stroke-width="0.64"/>
<path d="M288.9,451.7L297.4,446.8A17.6,10.2 60 0 1 315.0,477.3L306.5,482.2Z" fill="#fff" stroke="#141414" stroke-width="0.85" stroke-linejoin="round"/>
<ellipse cx="297.7" cy="467.0" rx="17.6" ry="10.2" transform="rotate(60 297.7 467.0)" fill="#fff" stroke="none" stroke-width="0"/>
<path d="M306.5,482.2A17.6,10.2 60 0 1 288.9,451.7" fill="none" stroke="#141414" stroke-width="0.85"/>
<path d="M288.9,451.7A17.6,10.2 60 0 1 306.5,482.2" fill="none" stroke="#363636" stroke-width="0.64"/>
<ellipse cx="297.7" cy="467.0" rx="15.6" ry="9.0" transform="rotate(60 297.7 467.0)" fill="#fff" stroke="#363636" stroke-width="0.7"/>
<clipPath id="cp6"><ellipse cx="297.7" cy="467.0" rx="15.6" ry="9.0" transform="rotate(60 297.7 467.0)"/></clipPath>
<g clip-path="url(#cp6)">
<ellipse cx="299.6" cy="465.9" rx="15.0" ry="8.7" transform="rotate(60 299.6 465.9)" fill="none" stroke="#363636" stroke-width="0.5"/>
</g>
<path d="M76.2,409.5L81.4,406.5" fill="none" stroke="#3a3a3a" stroke-width="0.6"/>
<path d="M90.6,401.9L102.4,395.0" fill="none" stroke="#3a3a3a" stroke-width="0.6"/>
<path d="M105.6,393.2L122.5,383.4" fill="none" stroke="#3a3a3a" stroke-width="0.6"/>
<path d="M160.3,360.9L172.2,354.4" fill="none" stroke="#3a3a3a" stroke-width="0.6"/>
<path d="M175.4,352.7L194.0,342.5" fill="none" stroke="#3a3a3a" stroke-width="0.6"/>
<path d="M166.8,378.6L184.1,368.6" fill="none" stroke="#3a3a3a" stroke-width="0.6"/>
<path d="M187.2,366.8L214.0,351.4" fill="none" stroke="#3a3a3a" stroke-width="0.6"/>
<path d="M253.3,299.2L283.6,282.4" fill="none" stroke="#3a3a3a" stroke-width="0.6"/>
<path d="M265.4,321.2L287.2,308.6" fill="none" stroke="#3a3a3a" stroke-width="0.6"/>
<path d="M80.8,571.7L82.6,570.7" fill="none" stroke="#3a3a3a" stroke-width="0.6"/>
<path d="M93.0,564.9L105.5,557.7" fill="none" stroke="#3a3a3a" stroke-width="0.6"/>
<path d="M108.6,555.9L126.5,545.6" fill="none" stroke="#3a3a3a" stroke-width="0.6"/>
<path d="M160.8,524.7L173.5,517.7" fill="none" stroke="#3a3a3a" stroke-width="0.6"/>
<path d="M176.7,516.0L196.5,505.0" fill="none" stroke="#3a3a3a" stroke-width="0.6"/>
<path d="M171.0,538.8L187.7,529.7" fill="none" stroke="#3a3a3a" stroke-width="0.6"/>
<path d="M190.8,527.9L216.6,513.8" fill="none" stroke="#3a3a3a" stroke-width="0.6"/>
<path d="M265.1,455.4L295.4,439.4" fill="none" stroke="#3a3a3a" stroke-width="0.6"/>
<path d="M276.8,477.3L299.4,465.6" fill="none" stroke="#3a3a3a" stroke-width="0.6"/>
<rect x="169.1" y="255.8" width="6.9" height="8.1" fill="#f26464"/>
<text x="172.6" y="262.8" font-size="7.3" text-anchor="middle" fill="#222" font-family="Liberation Sans, sans-serif">6</text>
<path d="M174.5,266.8L182.0,288.4" fill="none" stroke="#333" stroke-width="0.6"/>
<rect x="285.0" y="242.0" width="6.6" height="8.0" fill="#ffff00"/>
<text x="288.3" y="248.9" font-size="7.3" text-anchor="middle" fill="#222" font-family="Liberation Sans, sans-serif">8</text>
<path d="M289.3,252.6L292.1,267.6" fill="none" stroke="#333" stroke-width="0.6"/>
<rect x="100.0" y="325.0" width="6.6" height="8.0" fill="#ffff00"/>
<text x="103.3" y="331.9" font-size="7.3" text-anchor="middle" fill="#222" font-family="Liberation Sans, sans-serif">7</text>
<path d="M104.0,335.0L110.0,355.0" fill="none" stroke="#333" stroke-width="0.6"/>
<rect x="74.0" y="378.0" width="10.2" height="8.8" fill="#ffff00"/>
<text x="79.1" y="385.7" font-size="7.3" text-anchor="middle" fill="#222" font-family="Liberation Sans, sans-serif">10</text>
<path d="M80.2,389.5L83.3,398.6" fill="none" stroke="#333" stroke-width="0.6"/>
<rect x="43.0" y="391.0" width="7.0" height="8.2" fill="#ffff00"/>
<text x="46.5" y="398.1" font-size="7.3" text-anchor="middle" fill="#222" font-family="Liberation Sans, sans-serif">9</text>
<path d="M48.2,402.2L52.8,417.4" fill="none" stroke="#333" stroke-width="0.6"/>
<rect x="349.0" y="499.0" width="6.8" height="8.4" fill="#ffff00"/>
<text x="352.4" y="506.3" font-size="7.3" text-anchor="middle" fill="#222" font-family="Liberation Sans, sans-serif">3</text>
<path d="M338.6,482.8L349.4,498.6" fill="none" stroke="#333" stroke-width="0.6"/>
<rect x="44.9" y="554.9" width="6.1" height="9.1" fill="#ffff00"/>
<text x="48.0" y="562.9" font-size="7.3" text-anchor="middle" fill="#222" font-family="Liberation Sans, sans-serif">4</text>
<path d="M50.2,565.2L57.1,580.2" fill="none" stroke="#333" stroke-width="0.6"/>
<rect x="76.0" y="541.8" width="7.0" height="9.2" fill="#ffff00"/>
<text x="79.5" y="549.9" font-size="7.3" text-anchor="middle" fill="#222" font-family="Liberation Sans, sans-serif">5</text>
<path d="M81.4,552.5L83.9,562.2" fill="none" stroke="#333" stroke-width="0.6"/>
<rect x="280.6" y="594.6" width="5.4" height="7.2" fill="#ffff00"/>
<text x="283.3" y="600.7" font-size="7.3" text-anchor="middle" fill="#222" font-family="Liberation Sans, sans-serif">1</text>
<path d="M268.6,570.1L281.5,592.5" fill="none" stroke="#333" stroke-width="0.6"/>
<rect x="172.0" y="621.6" width="6.8" height="9.6" fill="#ffff00"/>
<text x="175.4" y="630.1" font-size="7.3" text-anchor="middle" fill="#222" font-family="Liberation Sans, sans-serif">2</text>
<path d="M164.8,602.9L173.6,620.1" fill="none" stroke="#333" stroke-width="0.6"/>
</svg>
</section>
<section id="partslist">
<div class="a" style="left:384px;top:23px;width:61px;height:20px;background:#003670"></div>
<div class="a" style="left:446px;top:23px;width:57px;height:20px;background:#003670"></div>
<div class="a" style="left:504px;top:23px;width:32px;height:20px;background:#003670"></div>
<div class="a" style="left:537px;top:23px;width:93px;height:20px;background:#003670"></div>
<div class="a" style="left:631px;top:23px;width:35px;height:20px;background:#003670"></div>
<div class="a" style="left:667px;top:23px;width:87px;height:20px;background:#003670"></div>
<div class="a" style="left:755px;top:23px;width:165px;height:20px;background:#003670"></div>
<div class="a" style="left:921px;top:23px;width:59px;height:20px;background:#003670"></div>
<div class="a" style="left:981px;top:23px;width:59px;height:20px;background:#003670"></div>
<div class="a" style="left:1041px;top:23px;width:72px;height:20px;background:#003670"></div>
<span class="t" style="left:451.70px;top:27.18px;font-size:11.6px;line-height:11.6px;color:#fff;transform:scaleX(0.8985);-webkit-text-stroke:0.08px #fff;">Symbol(s)</span>
<span class="t" style="left:509.30px;top:27.18px;font-size:11.6px;line-height:11.6px;color:#fff;transform:scaleX(0.9490);-webkit-text-stroke:0.08px #fff;">Item</span>
<span class="t" style="left:542.50px;top:27.18px;font-size:11.6px;line-height:11.6px;color:#fff;transform:scaleX(0.9307);-webkit-text-stroke:0.08px #fff;">Parts No.</span>
<span class="t" style="left:636.20px;top:27.18px;font-size:11.6px;line-height:11.6px;color:#fff;transform:scaleX(0.9461);-webkit-text-stroke:0.08px #fff;">Qty.</span>
<span class="t" style="left:672.60px;top:27.18px;font-size:11.6px;line-height:11.6px;color:#fff;transform:scaleX(0.9425);-webkit-text-stroke:0.08px #fff;">Latest Part No.</span>
<span class="t" style="left:760.70px;top:27.18px;font-size:11.6px;line-height:11.6px;color:#fff;transform:scaleX(0.9931);-webkit-text-stroke:0.08px #fff;">Description</span>
<span class="t" style="left:926.40px;top:27.18px;font-size:11.6px;line-height:11.6px;color:#fff;transform:scaleX(1.0113);-webkit-text-stroke:0.08px #fff;">Cut Out</span>
<span class="t" style="left:986.20px;top:27.18px;font-size:11.6px;line-height:11.6px;color:#fff;transform:scaleX(0.9855);-webkit-text-stroke:0.08px #fff;">Cut In</span>
<span class="t" style="left:1046.40px;top:27.18px;font-size:11.6px;line-height:11.6px;color:#fff;transform:scaleX(0.9583);-webkit-text-stroke:0.08px #fff;">Comment</span>
<div class="a" style="left:384px;top:62px;width:729px;height:1px;background:#ececec"></div>
<span class="t" style="left:507.50px;top:46.18px;font-size:11.6px;line-height:11.6px;color:#000;transform:scaleX(0.8990);">1</span>
<span class="t" style="left:540.30px;top:46.18px;font-size:11.6px;line-height:11.6px;color:#000;transform:scaleX(0.9242);">CH11329</span>
<span class="t" style="left:634.50px;top:46.18px;font-size:11.6px;line-height:11.6px;color:#000;transform:scaleX(0.8990);">1</span>
<span class="t" style="left:670.30px;top:46.18px;font-size:11.6px;line-height:11.6px;color:#000;transform:scaleX(0.9242);">CH11329</span>
<span class="t" style="left:758.40px;top:46.18px;font-size:11.6px;line-height:11.6px;color:#000;transform:scaleX(0.8701);">DAMPER</span>
<span class="t" style="left:1044.20px;top:46.18px;font-size:11.6px;line-height:11.6px;color:#000;transform:scaleX(0.9146);">360.7 x 72.0</span>
<div class="a" style="left:384px;top:82px;width:729px;height:1px;background:#ececec"></div>
<span class="t" style="left:507.50px;top:66.18px;font-size:11.6px;line-height:11.6px;color:#000;transform:scaleX(0.8990);">2</span>
<span class="t" style="left:540.30px;top:66.18px;font-size:11.6px;line-height:11.6px;color:#000;transform:scaleX(0.9242);">CH11317</span>
<span class="t" style="left:634.50px;top:66.18px;font-size:11.6px;line-height:11.6px;color:#000;transform:scaleX(0.8990);">1</span>
<span class="t" style="left:670.30px;top:66.18px;font-size:11.6px;line-height:11.6px;color:#000;transform:scaleX(0.9242);">CH11317</span>
<span class="t" style="left:758.40px;top:66.18px;font-size:11.6px;line-height:11.6px;color:#000;transform:scaleX(0.8347);">CRANKSHAFT PULLEY</span>
<div class="a" style="left:384px;top:102px;width:729px;height:1px;background:#ececec"></div>
<span class="t" style="left:507.50px;top:86.18px;font-size:11.6px;line-height:11.6px;color:#000;transform:scaleX(0.8990);">3</span>
<span class="t" style="left:540.30px;top:86.18px;font-size:11.6px;line-height:11.6px;color:#000;transform:scaleX(0.9082);">CH10951</span>
<span class="t" style="left:634.50px;top:86.18px;font-size:11.6px;line-height:11.6px;color:#000;transform:scaleX(0.8990);">1</span>
<span class="t" style="left:670.30px;top:86.18px;font-size:11.6px;line-height:11.6px;color:#000;transform:scaleX(0.9082);">CH10951</span>
<span class="t" style="left:758.40px;top:86.18px;font-size:11.6px;line-height:11.6px;color:#000;transform:scaleX(0.8154);">SPACER</span>
<div class="a" style="left:384px;top:122px;width:729px;height:1px;background:#ececec"></div>
<span class="t" style="left:507.50px;top:106.18px;font-size:11.6px;line-height:11.6px;color:#000;transform:scaleX(0.8990);">4</span>
<span class="t" style="left:540.30px;top:106.18px;font-size:11.6px;line-height:11.6px;color:#000;transform:scaleX(0.9082);">CH10809</span>
<span class="t" style="left:634.50px;top:106.18px;font-size:11.6px;line-height:11.6px;color:#000;transform:scaleX(0.8990);">6</span>
<span class="t" style="left:670.30px;top:106.18px;font-size:11.6px;line-height:11.6px;color:#000;transform:scaleX(0.9082);">CH10809</span>
<span class="t" style="left:758.40px;top:106.18px;font-size:11.6px;line-height:11.6px;color:#000;transform:scaleX(0.8319);">BOLT</span>
<div class="a" style="left:384px;top:142px;width:729px;height:1px;background:#ececec"></div>
<span class="t" style="left:507.50px;top:126.18px;font-size:11.6px;line-height:11.6px;color:#000;transform:scaleX(0.8990);">5</span>
<span class="t" style="left:540.30px;top:126.18px;font-size:11.6px;line-height:11.6px;color:#000;transform:scaleX(0.9082);">CH10100</span>
<span class="t" style="left:634.50px;top:126.18px;font-size:11.6px;line-height:11.6px;color:#000;transform:scaleX(0.8990);">6</span>
<span class="t" style="left:670.30px;top:126.18px;font-size:11.6px;line-height:11.6px;color:#000;transform:scaleX(0.9082);">CH10100</span>
<span class="t" style="left:758.40px;top:126.18px;font-size:11.6px;line-height:11.6px;color:#000;transform:scaleX(0.8713);">WASHER</span>
<div class="a" style="left:384px;top:143px;width:729px;height:19px;background:#0078d7"></div>
<div class="a" style="left:384px;top:162px;width:729px;height:1px;background:#ececec"></div>
<span class="t" style="left:507.50px;top:146.18px;font-size:11.6px;line-height:11.6px;color:#fff;transform:scaleX(0.8990);-webkit-text-stroke:0.08px #fff;">6</span>
<span class="t" style="left:540.30px;top:146.18px;font-size:11.6px;line-height:11.6px;color:#fff;transform:scaleX(0.9242);-webkit-text-stroke:0.08px #fff;">CH11361</span>
<span class="t" style="left:634.50px;top:146.18px;font-size:11.6px;line-height:11.6px;color:#fff;transform:scaleX(0.8990);-webkit-text-stroke:0.08px #fff;">1</span>
<span class="t" style="left:670.30px;top:146.18px;font-size:11.6px;line-height:11.6px;color:#fff;transform:scaleX(0.9242);-webkit-text-stroke:0.08px #fff;">CH11361</span>
<span class="t" style="left:758.40px;top:146.18px;font-size:11.6px;line-height:11.6px;color:#fff;transform:scaleX(0.8701);-webkit-text-stroke:0.08px #fff;">DAMPER</span>
<span class="t" style="left:1044.20px;top:146.18px;font-size:11.6px;line-height:11.6px;color:#fff;transform:scaleX(0.9101);-webkit-text-stroke:0.08px #fff;">340 x 32</span>
<div class="a" style="left:384px;top:182px;width:729px;height:1px;background:#ececec"></div>
<span class="t" style="left:507.50px;top:166.18px;font-size:11.6px;line-height:11.6px;color:#000;transform:scaleX(0.8990);">7</span>
<span class="t" style="left:540.30px;top:166.18px;font-size:11.6px;line-height:11.6px;color:#000;transform:scaleX(0.9242);">CH11356</span>
<span class="t" style="left:634.50px;top:166.18px;font-size:11.6px;line-height:11.6px;color:#000;transform:scaleX(0.8990);">1</span>
<span class="t" style="left:670.30px;top:166.18px;font-size:11.6px;line-height:11.6px;color:#000;transform:scaleX(0.9242);">CH11356</span>
<span class="t" style="left:758.40px;top:166.18px;font-size:11.6px;line-height:11.6px;color:#000;transform:scaleX(0.8347);">CRANKSHAFT PULLEY</span>
<div class="a" style="left:384px;top:202px;width:729px;height:1px;background:#ececec"></div>
<span class="t" style="left:507.50px;top:186.18px;font-size:11.6px;line-height:11.6px;color:#000;transform:scaleX(0.8990);">8</span>
<span class="t" style="left:540.30px;top:186.18px;font-size:11.6px;line-height:11.6px;color:#000;transform:scaleX(0.9082);">CH10951</span>
<span class="t" style="left:634.50px;top:186.18px;font-size:11.6px;line-height:11.6px;color:#000;transform:scaleX(0.8990);">1</span>
<span class="t" style="left:670.30px;top:186.18px;font-size:11.6px;line-height:11.6px;color:#000;transform:scaleX(0.9082);">CH10951</span>
<span class="t" style="left:758.40px;top:186.18px;font-size:11.6px;line-height:11.6px;color:#000;transform:scaleX(0.8154);">SPACER</span>
<div class="a" style="left:384px;top:222px;width:729px;height:1px;background:#ececec"></div>
<span class="t" style="left:507.50px;top:206.18px;font-size:11.6px;line-height:11.6px;color:#000;transform:scaleX(0.8990);">9</span>
<span class="t" style="left:540.30px;top:206.18px;font-size:11.6px;line-height:11.6px;color:#000;transform:scaleX(0.9082);">CH10809</span>
<span class="t" style="left:634.50px;top:206.18px;font-size:11.6px;line-height:11.6px;color:#000;transform:scaleX(0.8990);">6</span>
<span class="t" style="left:670.30px;top:206.18px;font-size:11.6px;line-height:11.6px;color:#000;transform:scaleX(0.9082);">CH10809</span>
<span class="t" style="left:758.40px;top:206.18px;font-size:11.6px;line-height:11.6px;color:#000;transform:scaleX(0.8319);">BOLT</span>
<div class="a" style="left:384px;top:242px;width:729px;height:1px;background:#ececec"></div>
<span class="t" style="left:507.50px;top:226.18px;font-size:11.6px;line-height:11.6px;color:#000;transform:scaleX(0.8990);">10</span>
<span class="t" style="left:540.30px;top:226.18px;font-size:11.6px;line-height:11.6px;color:#000;transform:scaleX(0.9082);">CH10100</span>
<span class="t" style="left:634.50px;top:226.18px;font-size:11.6px;line-height:11.6px;color:#000;transform:scaleX(0.8990);">6</span>
<span class="t" style="left:670.30px;top:226.18px;font-size:11.6px;line-height:11.6px;color:#000;transform:scaleX(0.9082);">CH10100</span>
<span class="t" style="left:758.40px;top:226.18px;font-size:11.6px;line-height:11.6px;color:#000;transform:scaleX(0.8713);">WASHER</span>
<div class="a" style="left:445px;top:43px;width:1px;height:200px;background:#ececec"></div>
<div class="a" style="left:503px;top:43px;width:1px;height:200px;background:#ececec"></div>
<div class="a" style="left:536px;top:43px;width:1px;height:200px;background:#ececec"></div>
<div class="a" style="left:630px;top:43px;width:1px;height:200px;background:#ececec"></div>
<div class="a" style="left:666px;top:43px;width:1px;height:200px;background:#ececec"></div>
<div class="a" style="left:754px;top:43px;width:1px;height:200px;background:#ececec"></div>
<div class="a" style="left:920px;top:43px;width:1px;height:200px;background:#ececec"></div>
<div class="a" style="left:980px;top:43px;width:1px;height:200px;background:#ececec"></div>
<div class="a" style="left:1040px;top:43px;width:1px;height:200px;background:#ececec"></div>
<div class="a" style="left:445px;top:143px;width:1px;height:19px;background:#f4f8fc"></div>
<div class="a" style="left:503px;top:143px;width:1px;height:19px;background:#f4f8fc"></div>
<div class="a" style="left:536px;top:143px;width:1px;height:19px;background:#f4f8fc"></div>
<div class="a" style="left:630px;top:143px;width:1px;height:19px;background:#f4f8fc"></div>
<div class="a" style="left:666px;top:143px;width:1px;height:19px;background:#f4f8fc"></div>
<div class="a" style="left:754px;top:143px;width:1px;height:19px;background:#f4f8fc"></div>
<div class="a" style="left:920px;top:143px;width:1px;height:19px;background:#f4f8fc"></div>
<div class="a" style="left:980px;top:143px;width:1px;height:19px;background:#f4f8fc"></div>
<div class="a" style="left:1040px;top:143px;width:1px;height:19px;background:#f4f8fc"></div>
<svg class="a" style="left:384px;top:23px" width="140" height="222" viewBox="384 23 140 222">
<defs><radialGradient id="ig" cx="0.45" cy="0.4" r="0.6"><stop offset="0" stop-color="#f2f7fb"/><stop offset="0.6" stop-color="#d5e5f2"/><stop offset="1" stop-color="#9fc3e2"/></radialGradient></defs>
<g transform="translate(395 52)"><path d="M3.58,-0.95 L4.91,-0.94 L4.91,0.94 L3.58,0.95 L3.20,1.86 L4.14,2.81 L2.81,4.14 L1.86,3.20 L0.95,3.58 L0.94,4.91 L-0.94,4.91 L-0.95,3.58 L-1.86,3.20 L-2.81,4.14 L-4.14,2.81 L-3.20,1.86 L-3.58,0.95 L-4.91,0.94 L-4.91,-0.94 L-3.58,-0.95 L-3.20,-1.86 L-4.14,-2.81 L-2.81,-4.14 L-1.86,-3.20 L-0.95,-3.58 L-0.94,-4.91 L0.94,-4.91 L0.95,-3.58 L1.86,-3.20 L2.81,-4.14 L4.14,-2.81 L3.20,-1.86Z" fill="#7ab51d" stroke="#7ab51d" stroke-width="0.6" stroke-linejoin="round"/><circle r="1.55" fill="#fff"/><circle r="2.1" fill="none" stroke="#b5dc6a" stroke-width="0.5" opacity="0.7"/></g>
<g transform="translate(402 43)" fill="none" stroke="#3d6394" stroke-linecap="round" stroke-linejoin="round"><path d="M3.2,2.3 L4.3,2.6 L5.6,4.3 L18.8,4.5 L15.2,9.4 L6.4,9.4 Z" stroke-width="1.0" fill="#f6f9fc"/><path d="M5.6,4.3 L6.4,9.4 L6.7,12.5 L17.6,12.5" stroke-width="1.05"/><path d="M6,6 L17.6,6.1 M6.2,7.8 L16.3,7.8 M8,4.6 L8.3,9.2 M10.1,4.6 L10.3,9.2 M12.2,4.6 L12.3,9.2 M14.3,4.6 L14.2,9.2 M16.4,4.6 L15.7,8.8" stroke="#4a6d9c" stroke-width="0.75"/><circle cx="7.8" cy="13.9" r="1.05" fill="#3b8fe3" stroke="none"/><circle cx="15.9" cy="13.9" r="1.05" fill="#3b8fe3" stroke="none"/></g>
<g transform="translate(431 51.9)"><circle cx="0" cy="0" r="6.9" fill="url(#ig)" stroke="#a9c9e6" stroke-width="0.6"/><rect x="-1" y="-3.7" width="2.05" height="1.6" fill="#2f5f9f"/><rect x="-1" y="-0.6" width="2.05" height="4.6" fill="#2f5f9f"/></g>
<g transform="translate(395 72)"><path d="M3.58,-0.95 L4.91,-0.94 L4.91,0.94 L3.58,0.95 L3.20,1.86 L4.14,2.81 L2.81,4.14 L1.86,3.20 L0.95,3.58 L0.94,4.91 L-0.94,4.91 L-0.95,3.58 L-1.86,3.20 L-2.81,4.14 L-4.14,2.81 L-3.20,1.86 L-3.58,0.95 L-4.91,0.94 L-4.91,-0.94 L-3.58,-0.95 L-3.20,-1.86 L-4.14,-2.81 L-2.81,-4.14 L-1.86,-3.20 L-0.95,-3.58 L-0.94,-4.91 L0.94,-4.91 L0.95,-3.58 L1.86,-3.20 L2.81,-4.14 L4.14,-2.81 L3.20,-1.86Z" fill="#7ab51d" stroke="#7ab51d" stroke-width="0.6" stroke-linejoin="round"/><circle r="1.55" fill="#fff"/><circle r="2.1" fill="none" stroke="#b5dc6a" stroke-width="0.5" opacity="0.7"/></g>
<g transform="translate(402 63)" fill="none" stroke="#3d6394" stroke-linecap="round" stroke-linejoin="round"><path d="M3.2,2.3 L4.3,2.6 L5.6,4.3 L18.8,4.5 L15.2,9.4 L6.4,9.4 Z" stroke-width="1.0" fill="#f6f9fc"/><path d="M5.6,4.3 L6.4,9.4 L6.7,12.5 L17.6,12.5" stroke-width="1.05"/><path d="M6,6 L17.6,6.1 M6.2,7.8 L16.3,7.8 M8,4.6 L8.3,9.2 M10.1,4.6 L10.3,9.2 M12.2,4.6 L12.3,9.2 M14.3,4.6 L14.2,9.2 M16.4,4.6 L15.7,8.8" stroke="#4a6d9c" stroke-width="0.75"/><circle cx="7.8" cy="13.9" r="1.05" fill="#3b8fe3" stroke="none"/><circle cx="15.9" cy="13.9" r="1.05" fill="#3b8fe3" stroke="none"/></g>
<g transform="translate(431 71.9)"><circle cx="0" cy="0" r="6.9" fill="url(#ig)" stroke="#a9c9e6" stroke-width="0.6"/><rect x="-1" y="-3.7" width="2.05" height="1.6" fill="#2f5f9f"/><rect x="-1" y="-0.6" width="2.05" height="4.6" fill="#2f5f9f"/></g>
<g transform="translate(395 92)"><path d="M3.58,-0.95 L4.91,-0.94 L4.91,0.94 L3.58,0.95 L3.20,1.86 L4.14,2.81 L2.81,4.14 L1.86,3.20 L0.95,3.58 L0.94,4.91 L-0.94,4.91 L-0.95,3.58 L-1.86,3.20 L-2.81,4.14 L-4.14,2.81 L-3.20,1.86 L-3.58,0.95 L-4.91,0.94 L-4.91,-0.94 L-3.58,-0.95 L-3.20,-1.86 L-4.14,-2.81 L-2.81,-4.14 L-1.86,-3.20 L-0.95,-3.58 L-0.94,-4.91 L0.94,-4.91 L0.95,-3.58 L1.86,-3.20 L2.81,-4.14 L4.14,-2.81 L3.20,-1.86Z" fill="#7ab51d" stroke="#7ab51d" stroke-width="0.6" stroke-linejoin="round"/><circle r="1.55" fill="#fff"/><circle r="2.1" fill="none" stroke="#b5dc6a" stroke-width="0.5" opacity="0.7"/></g>
<g transform="translate(402 83)" fill="none" stroke="#3d6394" stroke-linecap="round" stroke-linejoin="round"><path d="M3.2,2.3 L4.3,2.6 L5.6,4.3 L18.8,4.5 L15.2,9.4 L6.4,9.4 Z" stroke-width="1.0" fill="#f6f9fc"/><path d="M5.6,4.3 L6.4,9.4 L6.7,12.5 L17.6,12.5" stroke-width="1.05"/><path d="M6,6 L17.6,6.1 M6.2,7.8 L16.3,7.8 M8,4.6 L8.3,9.2 M10.1,4.6 L10.3,9.2 M12.2,4.6 L12.3,9.2 M14.3,4.6 L14.2,9.2 M16.4,4.6 L15.7,8.8" stroke="#4a6d9c" stroke-width="0.75"/><circle cx="7.8" cy="13.9" r="1.05" fill="#3b8fe3" stroke="none"/><circle cx="15.9" cy="13.9" r="1.05" fill="#3b8fe3" stroke="none"/></g>
<g transform="translate(431 91.9)"><circle cx="0" cy="0" r="6.9" fill="url(#ig)" stroke="#a9c9e6" stroke-width="0.6"/><rect x="-1" y="-3.7" width="2.05" height="1.6" fill="#2f5f9f"/><rect x="-1" y="-0.6" width="2.05" height="4.6" fill="#2f5f9f"/></g>
<g transform="translate(395 112)"><path d="M3.58,-0.95 L4.91,-0.94 L4.91,0.94 L3.58,0.95 L3.20,1.86 L4.14,2.81 L2.81,4.14 L1.86,3.20 L0.95,3.58 L0.94,4.91 L-0.94,4.91 L-0.95,3.58 L-1.86,3.20 L-2.81,4.14 L-4.14,2.81 L-3.20,1.86 L-3.58,0.95 L-4.91,0.94 L-4.91,-0.94 L-3.58,-0.95 L-3.20,-1.86 L-4.14,-2.81 L-2.81,-4.14 L-1.86,-3.20 L-0.95,-3.58 L-0.94,-4.91 L0.94,-4.91 L0.95,-3.58 L1.86,-3.20 L2.81,-4.14 L4.14,-2.81 L3.20,-1.86Z" fill="#7ab51d" stroke="#7ab51d" stroke-width="0.6" stroke-linejoin="round"/><circle r="1.55" fill="#fff"/><circle r="2.1" fill="none" stroke="#b5dc6a" stroke-width="0.5" opacity="0.7"/></g>
<g transform="translate(402 103)" fill="none" stroke="#3d6394" stroke-linecap="round" stroke-linejoin="round"><path d="M3.2,2.3 L4.3,2.6 L5.6,4.3 L18.8,4.5 L15.2,9.4 L6.4,9.4 Z" stroke-width="1.0" fill="#f6f9fc"/><path d="M5.6,4.3 L6.4,9.4 L6.7,12.5 L17.6,12.5" stroke-width="1.05"/><path d="M6,6 L17.6,6.1 M6.2,7.8 L16.3,7.8 M8,4.6 L8.3,9.2 M10.1,4.6 L10.3,9.2 M12.2,4.6 L12.3,9.2 M14.3,4.6 L14.2,9.2 M16.4,4.6 L15.7,8.8" stroke="#4a6d9c" stroke-width="0.75"/><circle cx="7.8" cy="13.9" r="1.05" fill="#3b8fe3" stroke="none"/><circle cx="15.9" cy="13.9" r="1.05" fill="#3b8fe3" stroke="none"/></g>
<g transform="translate(431 111.9)"><circle cx="0" cy="0" r="6.9" fill="url(#ig)" stroke="#a9c9e6" stroke-width="0.6"/><rect x="-1" y="-3.7" width="2.05" height="1.6" fill="#2f5f9f"/><rect x="-1" y="-0.6" width="2.05" height="4.6" fill="#2f5f9f"/></g>
<g transform="translate(395 132)"><path d="M3.58,-0.95 L4.91,-0.94 L4.91,0.94 L3.58,0.95 L3.20,1.86 L4.14,2.81 L2.81,4.14 L1.86,3.20 L0.95,3.58 L0.94,4.91 L-0.94,4.91 L-0.95,3.58 L-1.86,3.20 L-2.81,4.14 L-4.14,2.81 L-3.20,1.86 L-3.58,0.95 L-4.91,0.94 L-4.91,-0.94 L-3.58,-0.95 L-3.20,-1.86 L-4.14,-2.81 L-2.81,-4.14 L-1.86,-3.20 L-0.95,-3.58 L-0.94,-4.91 L0.94,-4.91 L0.95,-3.58 L1.86,-3.20 L2.81,-4.14 L4.14,-2.81 L3.20,-1.86Z" fill="#7ab51d" stroke="#7ab51d" stroke-width="0.6" stroke-linejoin="round"/><circle r="1.55" fill="#fff"/><circle r="2.1" fill="none" stroke="#b5dc6a" stroke-width="0.5" opacity="0.7"/></g>
<g transform="translate(402 123)" fill="none" stroke="#3d6394" stroke-linecap="round" stroke-linejoin="round"><path d="M3.2,2.3 L4.3,2.6 L5.6,4.3 L18.8,4.5 L15.2,9.4 L6.4,9.4 Z" stroke-width="1.0" fill="#f6f9fc"/><path d="M5.6,4.3 L6.4,9.4 L6.7,12.5 L17.6,12.5" stroke-width="1.05"/><path d="M6,6 L17.6,6.1 M6.2,7.8 L16.3,7.8 M8,4.6 L8.3,9.2 M10.1,4.6 L10.3,9.2 M12.2,4.6 L12.3,9.2 M14.3,4.6 L14.2,9.2 M16.4,4.6 L15.7,8.8" stroke="#4a6d9c" stroke-width="0.75"/><circle cx="7.8" cy="13.9" r="1.05" fill="#3b8fe3" stroke="none"/><circle cx="15.9" cy="13.9" r="1.05" fill="#3b8fe3" stroke="none"/></g>
<g transform="translate(431 131.9)"><circle cx="0" cy="0" r="6.9" fill="url(#ig)" stroke="#a9c9e6" stroke-width="0.6"/><rect x="-1" y="-3.7" width="2.05" height="1.6" fill="#2f5f9f"/><rect x="-1" y="-0.6" width="2.05" height="4.6" fill="#2f5f9f"/></g>
<g transform="translate(395 152)"><path d="M3.58,-0.95 L4.91,-0.94 L4.91,0.94 L3.58,0.95 L3.20,1.86 L4.14,2.81 L2.81,4.14 L1.86,3.20 L0.95,3.58 L0.94,4.91 L-0.94,4.91 L-0.95,3.58 L-1.86,3.20 L-2.81,4.14 L-4.14,2.81 L-3.20,1.86 L-3.58,0.95 L-4.91,0.94 L-4.91,-0.94 L-3.58,-0.95 L-3.20,-1.86 L-4.14,-2.81 L-2.81,-4.14 L-1.86,-3.20 L-0.95,-3.58 L-0.94,-4.91 L0.94,-4.91 L0.95,-3.58 L1.86,-3.20 L2.81,-4.14 L4.14,-2.81 L3.20,-1.86Z" fill="#7ab51d" stroke="#7ab51d" stroke-width="0.6" stroke-linejoin="round"/><circle r="1.55" fill="#fff"/><circle r="2.1" fill="none" stroke="#b5dc6a" stroke-width="0.5" opacity="0.7"/></g>
<g transform="translate(402 143)" fill="none" stroke="#7f93ad" stroke-linecap="round" stroke-linejoin="round"><path d="M3.2,2.3 L4.3,2.6 L5.6,4.3 L18.8,4.5 L15.2,9.4 L6.4,9.4 Z" stroke-width="1.0" fill="#f6f9fc"/><path d="M5.6,4.3 L6.4,9.4 L6.7,12.5 L17.6,12.5" stroke-width="1.05"/><path d="M6,6 L17.6,6.1 M6.2,7.8 L16.3,7.8 M8,4.6 L8.3,9.2 M10.1,4.6 L10.3,9.2 M12.2,4.6 L12.3,9.2 M14.3,4.6 L14.2,9.2 M16.4,4.6 L15.7,8.8" stroke="#8b9db5" stroke-width="0.75"/><circle cx="7.8" cy="13.9" r="1.05" fill="#8aa0b8" stroke="none"/><circle cx="15.9" cy="13.9" r="1.05" fill="#8aa0b8" stroke="none"/></g>
<g transform="translate(431 151.9)"><circle cx="0" cy="0" r="6.9" fill="url(#ig)" stroke="#a9c9e6" stroke-width="0.6"/><rect x="-1" y="-3.7" width="2.05" height="1.6" fill="#2f5f9f"/><rect x="-1" y="-0.6" width="2.05" height="4.6" fill="#2f5f9f"/></g>
<g transform="translate(395 172)"><path d="M3.58,-0.95 L4.91,-0.94 L4.91,0.94 L3.58,0.95 L3.20,1.86 L4.14,2.81 L2.81,4.14 L1.86,3.20 L0.95,3.58 L0.94,4.91 L-0.94,4.91 L-0.95,3.58 L-1.86,3.20 L-2.81,4.14 L-4.14,2.81 L-3.20,1.86 L-3.58,0.95 L-4.91,0.94 L-4.91,-0.94 L-3.58,-0.95 L-3.20,-1.86 L-4.14,-2.81 L-2.81,-4.14 L-1.86,-3.20 L-0.95,-3.58 L-0.94,-4.91 L0.94,-4.91 L0.95,-3.58 L1.86,-3.20 L2.81,-4.14 L4.14,-2.81 L3.20,-1.86Z" fill="#7ab51d" stroke="#7ab51d" stroke-width="0.6" stroke-linejoin="round"/><circle r="1.55" fill="#fff"/><circle r="2.1" fill="none" stroke="#b5dc6a" stroke-width="0.5" opacity="0.7"/></g>
<g transform="translate(402 163)" fill="none" stroke="#3d6394" stroke-linecap="round" stroke-linejoin="round"><path d="M3.2,2.3 L4.3,2.6 L5.6,4.3 L18.8,4.5 L15.2,9.4 L6.4,9.4 Z" stroke-width="1.0" fill="#f6f9fc"/><path d="M5.6,4.3 L6.4,9.4 L6.7,12.5 L17.6,12.5" stroke-width="1.05"/><path d="M6,6 L17.6,6.1 M6.2,7.8 L16.3,7.8 M8,4.6 L8.3,9.2 M10.1,4.6 L10.3,9.2 M12.2,4.6 L12.3,9.2 M14.3,4.6 L14.2,9.2 M16.4,4.6 L15.7,8.8" stroke="#4a6d9c" stroke-width="0.75"/><circle cx="7.8" cy="13.9" r="1.05" fill="#3b8fe3" stroke="none"/><circle cx="15.9" cy="13.9" r="1.05" fill="#3b8fe3" stroke="none"/></g>
<g transform="translate(431 171.9)"><circle cx="0" cy="0" r="6.9" fill="url(#ig)" stroke="#a9c9e6" stroke-width="0.6"/><rect x="-1" y="-3.7" width="2.05" height="1.6" fill="#2f5f9f"/><rect x="-1" y="-0.6" width="2.05" height="4.6" fill="#2f5f9f"/></g>
<g transform="translate(395 192)"><path d="M3.58,-0.95 L4.91,-0.94 L4.91,0.94 L3.58,0.95 L3.20,1.86 L4.14,2.81 L2.81,4.14 L1.86,3.20 L0.95,3.58 L0.94,4.91 L-0.94,4.91 L-0.95,3.58 L-1.86,3.20 L-2.81,4.14 L-4.14,2.81 L-3.20,1.86 L-3.58,0.95 L-4.91,0.94 L-4.91,-0.94 L-3.58,-0.95 L-3.20,-1.86 L-4.14,-2.81 L-2.81,-4.14 L-1.86,-3.20 L-0.95,-3.58 L-0.94,-4.91 L0.94,-4.91 L0.95,-3.58 L1.86,-3.20 L2.81,-4.14 L4.14,-2.81 L3.20,-1.86Z" fill="#7ab51d" stroke="#7ab51d" stroke-width="0.6" stroke-linejoin="round"/><circle r="1.55" fill="#fff"/><circle r="2.1" fill="none" stroke="#b5dc6a" stroke-width="0.5" opacity="0.7"/></g>
<g transform="translate(402 183)" fill="none" stroke="#3d6394" stroke-linecap="round" stroke-linejoin="round"><path d="M3.2,2.3 L4.3,2.6 L5.6,4.3 L18.8,4.5 L15.2,9.4 L6.4,9.4 Z" stroke-width="1.0" fill="#f6f9fc"/><path d="M5.6,4.3 L6.4,9.4 L6.7,12.5 L17.6,12.5" stroke-width="1.05"/><path d="M6,6 L17.6,6.1 M6.2,7.8 L16.3,7.8 M8,4.6 L8.3,9.2 M10.1,4.6 L10.3,9.2 M12.2,4.6 L12.3,9.2 M14.3,4.6 L14.2,9.2 M16.4,4.6 L15.7,8.8" stroke="#4a6d9c" stroke-width="0.75"/><circle cx="7.8" cy="13.9" r="1.05" fill="#3b8fe3" stroke="none"/><circle cx="15.9" cy="13.9" r="1.05" fill="#3b8fe3" stroke="none"/></g>
<g transform="translate(431 191.9)"><circle cx="0" cy="0" r="6.9" fill="url(#ig)" stroke="#a9c9e6" stroke-width="0.6"/><rect x="-1" y="-3.7" width="2.05" height="1.6" fill="#2f5f9f"/><rect x="-1" y="-0.6" width="2.05" height="4.6" fill="#2f5f9f"/></g>
<g transform="translate(395 212)"><path d="M3.58,-0.95 L4.91,-0.94 L4.91,0.94 L3.58,0.95 L3.20,1.86 L4.14,2.81 L2.81,4.14 L1.86,3.20 L0.95,3.58 L0.94,4.91 L-0.94,4.91 L-0.95,3.58 L-1.86,3.20 L-2.81,4.14 L-4.14,2.81 L-3.20,1.86 L-3.58,0.95 L-4.91,0.94 L-4.91,-0.94 L-3.58,-0.95 L-3.20,-1.86 L-4.14,-2.81 L-2.81,-4.14 L-1.86,-3.20 L-0.95,-3.58 L-0.94,-4.91 L0.94,-4.91 L0.95,-3.58 L1.86,-3.20 L2.81,-4.14 L4.14,-2.81 L3.20,-1.86Z" fill="#7ab51d" stroke="#7ab51d" stroke-width="0.6" stroke-linejoin="round"/><circle r="1.55" fill="#fff"/><circle r="2.1" fill="none" stroke="#b5dc6a" stroke-width="0.5" opacity="0.7"/></g>
<g transform="translate(402 203)" fill="none" stroke="#3d6394" stroke-linecap="round" stroke-linejoin="round"><path d="M3.2,2.3 L4.3,2.6 L5.6,4.3 L18.8,4.5 L15.2,9.4 L6.4,9.4 Z" stroke-width="1.0" fill="#f6f9fc"/><path d="M5.6,4.3 L6.4,9.4 L6.7,12.5 L17.6,12.5" stroke-width="1.05"/><path d="M6,6 L17.6,6.1 M6.2,7.8 L16.3,7.8 M8,4.6 L8.3,9.2 M10.1,4.6 L10.3,9.2 M12.2,4.6 L12.3,9.2 M14.3,4.6 L14.2,9.2 M16.4,4.6 L15.7,8.8" stroke="#4a6d9c" stroke-width="0.75"/><circle cx="7.8" cy="13.9" r="1.05" fill="#3b8fe3" stroke="none"/><circle cx="15.9" cy="13.9" r="1.05" fill="#3b8fe3" stroke="none"/></g>
<g transform="translate(431 211.9)"><circle cx="0" cy="0" r="6.9" fill="url(#ig)" stroke="#a9c9e6" stroke-width="0.6"/><rect x="-1" y="-3.7" width="2.05" height="1.6" fill="#2f5f9f"/><rect x="-1" y="-0.6" width="2.05" height="4.6" fill="#2f5f9f"/></g>
<g transform="translate(395 232)"><path d="M3.58,-0.95 L4.91,-0.94 L4.91,0.94 L3.58,0.95 L3.20,1.86 L4.14,2.81 L2.81,4.14 L1.86,3.20 L0.95,3.58 L0.94,4.91 L-0.94,4.91 L-0.95,3.58 L-1.86,3.20 L-2.81,4.14 L-4.14,2.81 L-3.20,1.86 L-3.58,0.95 L-4.91,0.94 L-4.91,-0.94 L-3.58,-0.95 L-3.20,-1.86 L-4.14,-2.81 L-2.81,-4.14 L-1.86,-3.20 L-0.95,-3.58 L-0.94,-4.91 L0.94,-4.91 L0.95,-3.58 L1.86,-3.20 L2.81,-4.14 L4.14,-2.81 L3.20,-1.86Z" fill="#7ab51d" stroke="#7ab51d" stroke-width="0.6" stroke-linejoin="round"/><circle r="1.55" fill="#fff"/><circle r="2.1" fill="none" stroke="#b5dc6a" stroke-width="0.5" opacity="0.7"/></g>
<g transform="translate(402 223)" fill="none" stroke="#3d6394" stroke-linecap="round" stroke-linejoin="round"><path d="M3.2,2.3 L4.3,2.6 L5.6,4.3 L18.8,4.5 L15.2,9.4 L6.4,9.4 Z" stroke-width="1.0" fill="#f6f9fc"/><path d="M5.6,4.3 L6.4,9.4 L6.7,12.5 L17.6,12.5" stroke-width="1.05"/><path d="M6,6 L17.6,6.1 M6.2,7.8 L16.3,7.8 M8,4.6 L8.3,9.2 M10.1,4.6 L10.3,9.2 M12.2,4.6 L12.3,9.2 M14.3,4.6 L14.2,9.2 M16.4,4.6 L15.7,8.8" stroke="#4a6d9c" stroke-width="0.75"/><circle cx="7.8" cy="13.9" r="1.05" fill="#3b8fe3" stroke="none"/><circle cx="15.9" cy="13.9" r="1.05" fill="#3b8fe3" stroke="none"/></g>
<g transform="translate(431 231.9)"><circle cx="0" cy="0" r="6.9" fill="url(#ig)" stroke="#a9c9e6" stroke-width="0.6"/><rect x="-1" y="-3.7" width="2.05" height="1.6" fill="#2f5f9f"/><rect x="-1" y="-0.6" width="2.05" height="4.6" fill="#2f5f9f"/></g>
<g transform="translate(446 42)" fill="none" stroke-linejoin="round"><path d="M8.2,10.45 A6.7,4.35 0 1 1 13.0,10.6 L8.2,15.8 Z" stroke="#222" stroke-width="1" fill="#fff"/><path d="M11,2.4 V7.6 M11,8.7 V9.9" stroke="#111" stroke-width="2"/></g>
<g transform="translate(446 142)" fill="none" stroke-linejoin="round"><path d="M8.2,10.45 A6.7,4.35 0 1 1 13.0,10.6 L8.2,15.8 Z" stroke="#222" stroke-width="1" fill="#fff"/><path d="M11,2.4 V7.6 M11,8.7 V9.9" stroke="#111" stroke-width="2"/></g>
<g><rect x="402.1" y="25.1" width="13.7" height="13.4" fill="#1f74c4"/><rect x="403" y="26" width="11.9" height="1.1" fill="#fff"/><rect x="403" y="28.2" width="11.8" height="9.6" fill="#2a6db5"/><rect x="403" y="28.2" width="3.3" height="9.6" fill="#fff"/><path d="M404.3,29.5h1 M404.3,31.4h1 M404.3,33.3h1 M404.3,35.2h1" stroke="#24508a" stroke-width="0.8"/><rect x="413.6" y="28.2" width="1.2" height="1.2" fill="#fff"/><path d="M413.6,36.9 L417.6,40.1" stroke="#2f79c9" stroke-width="2.2" stroke-linecap="round"/><path d="M414.6,37.2 L417.4,39.6" stroke="#8fb8e4" stroke-width="0.7" stroke-dasharray="1 0.8"/><circle cx="410.5" cy="33.3" r="4.5" fill="#d9dde2" stroke="#1b63ad" stroke-width="1.1"/><path d="M408.3,31.6 Q410.5,29.8 412.8,32.2" stroke="#fff" stroke-width="1.3" fill="none" stroke-linecap="round"/></g>
</svg>
</section>
<section id="brand">
<svg class="a" style="left:1066px;top:604px" width="47" height="54" viewBox="1066 604 47 54">
<g fill="none" stroke="#0b4f9e" stroke-width="3.3">
<ellipse cx="1081.25" cy="617.65" rx="5.55" ry="6.0"/>
<path d="M1077.25,621.65 L1085.25,613.65"/>
<ellipse cx="1098.45" cy="617.65" rx="5.55" ry="6.0"/>
<path d="M1094.45,613.65 L1102.45,621.65"/>
<ellipse cx="1081.25" cy="634.55" rx="5.55" ry="6.0"/>
<path d="M1077.25,630.55 L1085.25,638.55"/>
<ellipse cx="1098.45" cy="634.55" rx="5.55" ry="6.0"/>
<path d="M1094.45,638.55 L1102.45,630.55"/>
</g>
<path d="M1089.85,608.9 l3.4,4.4 l-3.4,3.6 l-3.4,-3.6 Z M1089.85,643.3000000000001 l3.4,-4.4 l-3.4,-3.6 l-3.4,3.6 Z M1072.4499999999998,626.1 l4.4,-3.3 l3.6,3.3 l-3.6,3.3 Z M1107.25,626.1 l-4.4,-3.3 l-3.6,3.3 l3.6,3.3 Z" fill="#0b4f9e"/>
</svg>
<span class="t" style="left:1072.00px;top:646.09px;font-size:11px;line-height:11px;color:#0b4f9e;transform:scaleX(0.9182);font-weight:bold;-webkit-text-stroke:0;">Perkins</span>
<span class="t" style="left:1109.00px;top:648.36px;font-size:3px;line-height:3px;color:#5d8cc4;transform:scaleX(0.6818);">®</span>
</section>
</body></html>
